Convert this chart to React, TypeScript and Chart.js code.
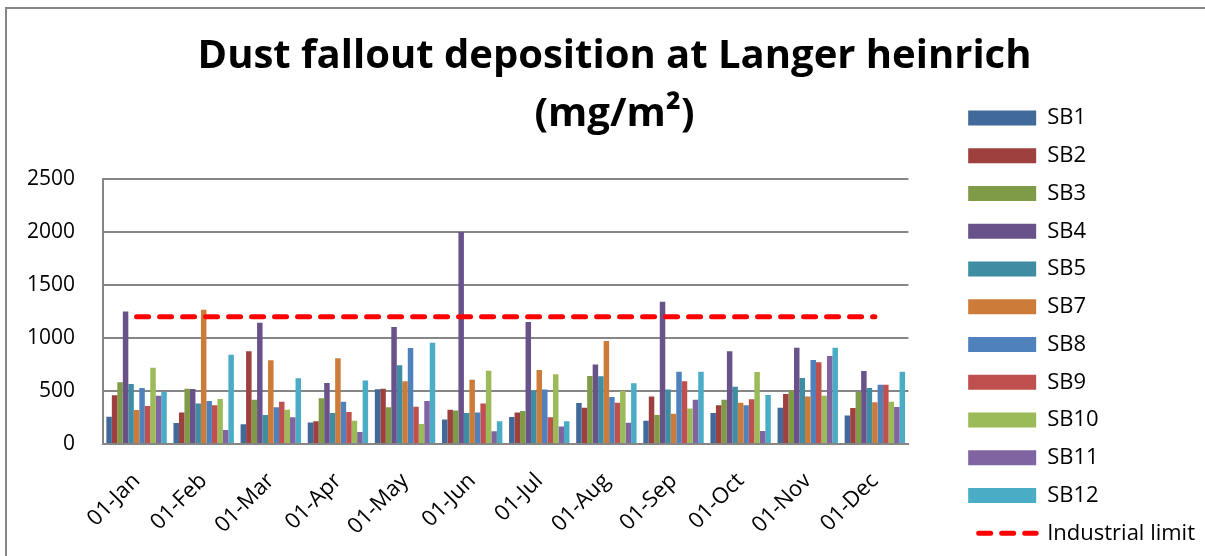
import React, { useEffect, useRef } from "react";
import { Chart, registerables } from "chart.js";

Chart.register(...registerables);

const months = ["01-Jan", "01-Feb", "01-Mar", "01-Apr", "01-May", "01-Jun", "01-Jul", "01-Aug", "01-Sep", "01-Oct", "01-Nov", "01-Dec"];
const yTicks = [0, 500, 1000, 1500, 2000, 2500];

const sb1 = [258, 198, 186, 204, 516, 230, 255, 387, 220, 292, 343, 270];
const sb2 = [459, 296, 874, 214, 522, 324, 296, 343, 447, 365, 472, 340];
const sb3 = [582, 522, 418, 431, 346, 315, 311, 642, 274, 418, 500, 494];
const sb4 = [1249, 519, 1145, 576, 1104, 2000, 1151, 749, 1343, 874, 909, 689];
const sb5 = [566, 381, 274, 292, 742, 292, 503, 638, 513, 541, 623, 528];
const sb7 = [321, 1267, 789, 808, 591, 607, 698, 972, 286, 390, 447, 393];
const sb8 = [528, 406, 346, 399, 906, 296, 513, 443, 682, 365, 793, 560];
const sb9 = [359, 365, 399, 302, 352, 381, 252, 390, 591, 421, 771, 560];
const sb10 = [720, 425, 324, 220, 189, 692, 657, 500, 336, 679, 456, 399];
const sb11 = [456, 132, 252, 113, 406, 120, 164, 201, 418, 123, 830, 349];
const sb12 = [494, 843, 620, 598, 956, 214, 214, 572, 682, 462, 909, 682];
const industrialLimit = [1200, 1200, 1200, 1200, 1200, 1200, 1200, 1200, 1200, 1200, 1200, 1200];

const seriesNames = ["SB1", "SB2", "SB3", "SB4", "SB5", "SB7", "SB8", "SB9", "SB10", "SB11", "SB12"];
const seriesValues = [sb1, sb2, sb3, sb4, sb5, sb7, sb8, sb9, sb10, sb11, sb12];
const seriesColors = ["#416A9B", "#9E413E", "#7F9B47", "#69518A", "#3E8DA3", "#CD7B38", "#4F81BD", "#C0504D", "#9BBB59", "#8064A2", "#4BACC6"];

const GRID = "#868686";
const FONT = "'Open Sans', sans-serif";

export default function App() {
  const ref = useRef<HTMLCanvasElement | null>(null);

  useEffect(() => {
    if (!ref.current) return;
    Chart.defaults.font.family = FONT;

    const borderPlugin = {
      id: "outerBorder",
      beforeDraw(chart: any) {
        const ctx = chart.ctx;
        ctx.save();
        ctx.fillStyle = "#ffffff";
        ctx.fillRect(0, 0, chart.width, chart.height);
        ctx.strokeStyle = GRID;
        ctx.lineWidth = 2;
        ctx.beginPath();
        ctx.moveTo(6, chart.height);
        ctx.lineTo(6, 8);
        ctx.lineTo(chart.width, 8);
        ctx.stroke();
        ctx.restore();
      },
    };

    const datasets: any[] = seriesNames.map((name, i) => ({
      type: "bar",
      label: name,
      data: seriesValues[i],
      backgroundColor: seriesColors[i],
      borderWidth: 0,
      categoryPercentage: 0.9,
      barPercentage: 1.0,
      order: 1,
      yAxisID: "y",
    }));
    datasets.push({
      type: "line",
      label: "Industrial limit",
      data: industrialLimit,
      borderColor: "#FF0000",
      backgroundColor: "#FF0000",
      borderWidth: 5,
      borderDash: [12, 11],
      borderCapStyle: "round",
      pointRadius: 0,
      fill: false,
      order: 0,
      yAxisID: "y",
    });

    const chart = new Chart(ref.current, {
      type: "bar",
      data: { labels: months, datasets },
      plugins: [borderPlugin],
      options: {
        animation: false,
        responsive: false,
        devicePixelRatio: 1,
        layout: { padding: { left: 24, right: 0, top: 0, bottom: -4 } },
        plugins: {
          tooltip: { enabled: false },
          title: {
            display: true,
            text: ["Dust fallout deposition at Langer heinrich", "(mg/m²)"],
            color: "#000",
            font: { family: FONT, size: 40, weight: "bold", lineHeight: 1.45 },
            padding: { top: 28, bottom: 35 },
          },
          legend: {
            display: true,
            position: "right",
            align: "end",
            maxWidth: 300,
            labels: {
              usePointStyle: true,
              pointStyleWidth: 68,
              boxWidth: 68,
              boxHeight: 15,
              padding: 15.75,
              color: "#000",
              font: { family: FONT, size: 22 },
              generateLabels: (c: any) =>
                c.data.datasets.map((ds: any, i: number) => {
                  const isLine = ds.type === "line";
                  return {
                    text: ds.label,
                    fillStyle: isLine ? "rgba(0,0,0,0)" : ds.backgroundColor,
                    strokeStyle: isLine ? "#FF0000" : ds.backgroundColor,
                    lineWidth: isLine ? 5 : 0,
                    lineDash: isLine ? [12, 11] : [],
                    lineDashOffset: isLine ? 12.5 : 0,
                    lineCap: "round",
                    pointStyle: isLine ? "line" : "rect",
                    hidden: false,
                    datasetIndex: i,
                    fontColor: "#000",
                  };
                }),
            },
          },
        },
        scales: {
          x: {
            type: "category",
            grid: { display: false, drawTicks: false },
            border: { display: true, color: GRID, width: 2 },
            ticks: {
              autoSkip: false,
              maxRotation: 45,
              minRotation: 45,
              padding: 24,
              color: "#000",
              font: { family: FONT, size: 22 },
            },
            afterFit: (s: any) => {
              s.height = 116;
            },
          },
          y: {
            type: "linear",
            position: "left",
            min: 0,
            max: 2500,
            afterBuildTicks: (s: any) => {
              s.ticks = yTicks.map((v) => ({ value: v }));
            },
            grid: { color: GRID, lineWidth: 2, drawTicks: false },
            border: { display: true, color: GRID, width: 2 },
            ticks: {
              padding: 28,
              color: "#000",
              font: { family: FONT, size: 21 },
              callback: (v: any) => String(v),
            },
            afterFit: (s: any) => {
              s.width = 79;
            },
          },
          y2: {
            type: "linear",
            position: "right",
            display: true,
            grid: { display: false, drawTicks: false },
            border: { display: false },
            ticks: { display: false },
            afterFit: (s: any) => {
              s.width = 44;
            },
          },
        },
      },
    } as any);

    return () => chart.destroy();
  }, []);

  return (
    <div style={{ position: "fixed", left: 0, top: 0, width: 1205, height: 556, background: "#fff" }}>
      <canvas ref={ref} width={1205} height={556} style={{ display: "block" }} />
    </div>
  );
}
